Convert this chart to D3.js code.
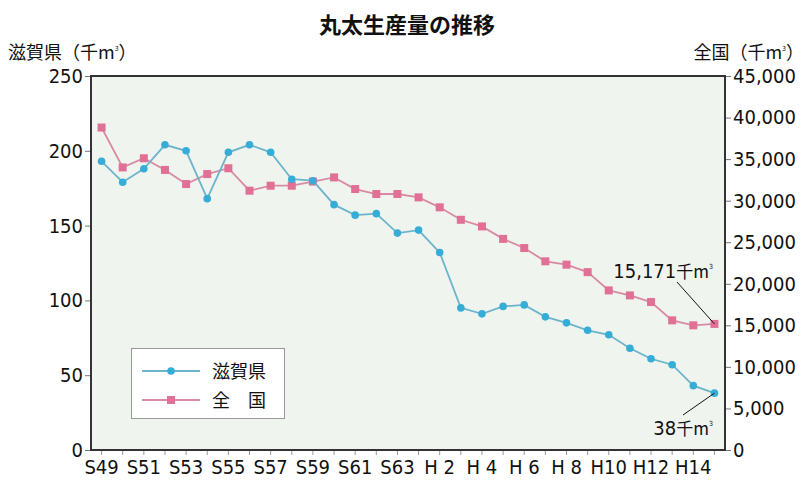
<!DOCTYPE html>
<html>
<head>
<meta charset="utf-8">
<script src="https://cdn.jsdelivr.net/npm/d3@7"></script>
<style>
  body { margin: 0; background: #fff; }
  text { font-family: "Noto Sans CJK JP", sans-serif; fill: #111; }
  .num { font-family: "Liberation Sans Narrow", "DejaVu Sans Condensed", sans-serif; font-size: 20px; }
</style>
</head>
<body>
<script>
// years S49 .. H15 (labels every other year)
const years = ["S49","S50","S51","S52","S53","S54","S55","S56","S57","S58","S59","S60","S61","S62","S63",
  "H 1","H 2","H 3","H 4","H 5","H 6","H 7","H 8","H 9","H10","H11","H12","H13","H14","H15"];
const shiga = [193,179,188,204,200,168,199,204,199,181,180,164,157,158,145,
  147,132,95,91,96,97,89,85,80,77,68,61,57,43,38];
const zenkoku = [38800,34000,35100,33700,32000,33200,33900,31200,31800,31800,32300,32800,31400,30800,30800,
  30400,29200,27700,26900,25400,24300,22700,22300,21400,19200,18600,17800,15600,15000,15171];
const leftTicks = [0,50,100,150,200,250];
const rightTicks = [0,5000,10000,15000,20000,25000,30000,35000,40000,45000];

const width = 808, height = 480;
const plotL = 91, plotR = 725, plotT = 76, plotB = 450;

var svg = d3.select("body").append("svg")
  .attr("width", width)
  .attr("height", height);

var x = d3.scaleBand().domain(years).range([plotL, plotR]);
var yL = d3.scaleLinear().domain([0, 250]).range([plotB, plotT]);
var yR = d3.scaleLinear().domain([0, 45000]).range([plotB, plotT]);
var cx = d => x(d) + x.bandwidth() / 2;

// plot background
svg.append("rect")
  .attr("x", plotL).attr("y", plotT)
  .attr("width", plotR - plotL).attr("height", plotB - plotT)
  .attr("fill", "#eff4ef");

// title
svg.append("text").attr("x", 407).attr("y", 33)
  .attr("text-anchor", "middle")
  .style("font-size", "22px").style("font-weight", "bold")
  .text("丸太生産量の推移");

// axis titles
var lt = svg.append("text").attr("x", 8).attr("y", 59).style("font-size", "18px");
lt.append("tspan").text("滋賀県（千m");
lt.append("tspan").attr("dy", -8).style("font-size", "7px").text("3");
lt.append("tspan").attr("dy", 8).text("）");
var rt = svg.append("text").attr("x", 804).attr("y", 59).attr("text-anchor", "end").style("font-size", "18px");
rt.append("tspan").text("全国（千m");
rt.append("tspan").attr("dy", -8).style("font-size", "7px").text("3");
rt.append("tspan").attr("dy", 8).text("）");

// left axis
var gL = svg.append("g").attr("transform", "translate(" + plotL + ",0)")
  .call(d3.axisLeft(yL).tickValues(leftTicks).tickSize(6).tickPadding(2));
gL.select(".domain").remove();
gL.selectAll("line").attr("stroke", "#777");
gL.selectAll("text").attr("class", "num").attr("fill", "#111");

// right axis
var gR = svg.append("g").attr("transform", "translate(" + plotR + ",0)")
  .call(d3.axisRight(yR).tickValues(rightTicks).tickSize(6).tickPadding(2).tickFormat(d3.format(",")));
gR.select(".domain").remove();
gR.selectAll("line").attr("stroke", "#777");
gR.selectAll("text").attr("class", "num").attr("fill", "#111");

// bottom axis
var gB = svg.append("g").attr("transform", "translate(0," + plotB + ")")
  .call(d3.axisBottom(x).tickSize(5).tickPadding(2)
    .tickFormat((d, i) => i % 2 === 0 ? d : ""));
gB.select(".domain").remove();
gB.selectAll("line").attr("stroke", "#999");
gB.selectAll("text").attr("class", "num").attr("fill", "#111").attr("dy", "0.85em");

// frame
svg.append("rect")
  .attr("x", plotL).attr("y", plotT)
  .attr("width", plotR - plotL).attr("height", plotB - plotT)
  .attr("fill", "none").attr("stroke", "#333").attr("stroke-width", 2);

// national line (squares)
var lineR = d3.line().x((d, i) => cx(years[i])).y(d => yR(d));
svg.append("path").datum(zenkoku)
  .attr("d", lineR).attr("fill", "none")
  .attr("stroke", "#d98aa2").attr("stroke-width", 1.8);
svg.append("g").selectAll("rect").data(zenkoku).enter().append("rect")
  .attr("x", (d, i) => cx(years[i]) - 4)
  .attr("y", d => yR(d) - 4)
  .attr("width", 8).attr("height", 8)
  .attr("fill", "#e07096");

// shiga line (circles)
var lineL = d3.line().x((d, i) => cx(years[i])).y(d => yL(d));
svg.append("path").datum(shiga)
  .attr("d", lineL).attr("fill", "none")
  .attr("stroke", "#6bb4cc").attr("stroke-width", 1.8);
svg.append("g").selectAll("circle").data(shiga).enter().append("circle")
  .attr("cx", (d, i) => cx(years[i]))
  .attr("cy", d => yL(d))
  .attr("r", 3.8)
  .attr("fill", "#36add6");

// annotations
var last = years.length - 1;
svg.append("line")
  .attr("x1", 677).attr("y1", 282)
  .attr("x2", cx(years[last])).attr("y2", yR(zenkoku[last]))
  .attr("stroke", "#111").attr("stroke-width", 1);
var a1 = svg.append("text").attr("x", 713).attr("y", 278).attr("text-anchor", "end")
  .attr("class", "num");
a1.append("tspan").text(d3.format(",")(zenkoku[last]));
a1.append("tspan").style("font-family", "Noto Sans CJK JP").style("font-size", "17px").text("千m");
a1.append("tspan").attr("dy", -9).style("font-size", "7px").text("3");

svg.append("line")
  .attr("x1", 683).attr("y1", 415)
  .attr("x2", cx(years[last])).attr("y2", yL(shiga[last]))
  .attr("stroke", "#111").attr("stroke-width", 1);
var a2 = svg.append("text").attr("x", 713).attr("y", 435).attr("text-anchor", "end")
  .attr("class", "num");
a2.append("tspan").text(shiga[last]);
a2.append("tspan").style("font-family", "Noto Sans CJK JP").style("font-size", "17px").text("千m");
a2.append("tspan").attr("dy", -9).style("font-size", "7px").text("3");

// legend
var lg = svg.append("g");
lg.append("rect").attr("x", 131.5).attr("y", 348.5).attr("width", 153).attr("height", 70)
  .attr("fill", "#fff").attr("stroke", "#999");
lg.append("line").attr("x1", 142).attr("x2", 200).attr("y1", 371).attr("y2", 371)
  .attr("stroke", "#6bb4cc").attr("stroke-width", 1.8);
lg.append("circle").attr("cx", 171).attr("cy", 371).attr("r", 3.8).attr("fill", "#36add6");
lg.append("line").attr("x1", 142).attr("x2", 200).attr("y1", 400).attr("y2", 400)
  .attr("stroke", "#d98aa2").attr("stroke-width", 1.8);
lg.append("rect").attr("x", 167).attr("y", 396).attr("width", 8).attr("height", 8).attr("fill", "#e07096");
lg.append("text").attr("x", 212).attr("y", 378).style("font-size", "18px").text("滋賀県");
lg.append("text").attr("x", 212).attr("y", 407).style("font-size", "18px").text("全　国");
</script>
</body>
</html>
